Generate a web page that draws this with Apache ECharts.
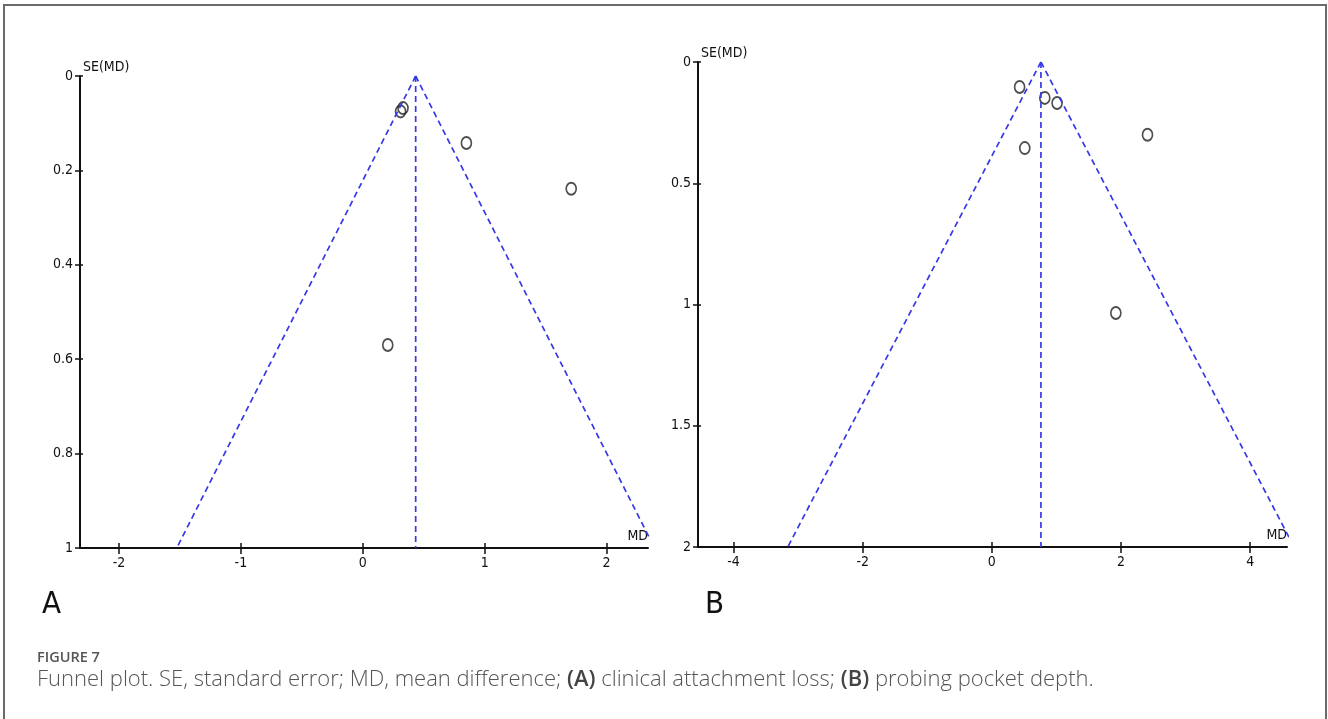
<!DOCTYPE html>
<html>
<head>
<meta charset="utf-8">
<script src="https://cdn.jsdelivr.net/npm/echarts@6/dist/echarts.min.js"></script>
<style>
html,body{margin:0;padding:0;background:#fff;}
#chart{width:1328px;height:719px;}
</style>
</head>
<body>
<div id="chart"></div>
<script>
// ---------- Data ----------
// Panel A: clinical attachment loss  [MD, SE(MD)]
const studiesA = [[0.31, 0.075], [0.33, 0.068], [0.85, 0.142], [1.71, 0.239], [0.205, 0.570]];
// funnel lines (pooled MD at SE=0 and pseudo 95% limits at SE=1)
const funnelCenterA = [[0.434, 0], [0.434, 1]];
const funnelLeftA = [[0.434, 0], [-1.526, 1]];
const funnelRightA = [[0.434, 0], [2.394, 1]];
const xTicksA = [-2, -1, 0, 1, 2];
const yTicksA = [0, 0.2, 0.4, 0.6, 0.8, 1];
const xRangeA = [-2.32, 2.34];
const yRangeA = [0, 1];

// Panel B: probing pocket depth  [MD, SE(MD)]
const studiesB = [[0.43, 0.103], [0.82, 0.148], [1.01, 0.169], [0.51, 0.355], [2.41, 0.300], [1.92, 1.035]];
const funnelCenterB = [[0.76, 0], [0.76, 2]];
const funnelLeftB = [[0.76, 0], [-3.16, 2]];
const funnelRightB = [[0.76, 0], [4.68, 2]];
const xTicksB = [-4, -2, 0, 2, 4];
const yTicksB = [0, 0.5, 1, 1.5, 2];
const xRangeB = [-4.55, 4.57];
const yRangeB = [0, 2];

const yNameText = 'SE(MD)';
const xNameText = 'MD';
const panelLabels = ['A', 'B'];
const figureTag = 'FIGURE 7';
const captionParts = ['Funnel plot. SE, standard error; MD, mean difference; ', '(A)', ' clinical attachment loss; ', '(B)', ' probing pocket depth.'];

// ---------- Styles ----------
const AX = '#111111';
const NARROW = "'DejaVu Sans Condensed','Liberation Sans Narrow',sans-serif";
const FUNNEL = '#3838e6';
const labelStyle = {color: AX, fontSize: 14, fontFamily: NARROW};

function mainX(grid, range, ticks) {
  return {
    type: 'value', gridIndex: grid, position: 'bottom', min: range[0], max: range[1],
    splitLine: {show: false},
    axisLine: {show: true, onZero: false, lineStyle: {color: AX, width: 2}},
    axisTick: {show: true, inside: false, length: 6, lineStyle: {color: AX, width: 1.5}, customValues: ticks},
    axisLabel: Object.assign({show: true, margin: 8, customValues: ticks}, labelStyle),
    name: xNameText, nameLocation: 'end', nameGap: 0,
    nameTextStyle: {color: AX, fontSize: 14, fontFamily: NARROW, align: 'right', verticalAlign: 'bottom', padding: [0, 0, 5, 0]}
  };
}
function innerX(grid, range, ticks) {
  return {
    type: 'value', gridIndex: grid, position: 'bottom', min: range[0], max: range[1],
    splitLine: {show: false},
    axisLine: {show: false, onZero: false},
    axisTick: {show: true, inside: true, length: 5, lineStyle: {color: AX, width: 1.5}, customValues: ticks},
    axisLabel: {show: false}
  };
}
function mainY(grid, range, ticks) {
  return {
    type: 'value', gridIndex: grid, position: 'left', inverse: true, min: range[0], max: range[1],
    splitLine: {show: false},
    axisLine: {show: true, onZero: false, lineStyle: {color: AX, width: 2}},
    axisTick: {show: true, inside: false, length: 5, lineStyle: {color: AX, width: 1.5}, customValues: ticks},
    axisLabel: Object.assign({show: true, margin: 7, customValues: ticks}, labelStyle),
    name: yNameText, nameLocation: 'start', nameGap: 2,
    nameTextStyle: {color: AX, fontSize: 14, fontFamily: NARROW, align: 'left', verticalAlign: 'bottom', padding: [0, 0, 0, 3]}
  };
}
function innerY(grid, range, ticks) {
  return {
    type: 'value', gridIndex: grid, position: 'left', inverse: true, min: range[0], max: range[1],
    splitLine: {show: false},
    axisLine: {show: false, onZero: false},
    axisTick: {show: true, inside: true, length: 3, lineStyle: {color: AX, width: 1.5}, customValues: ticks},
    axisLabel: {show: false}
  };
}
function funnelLine(data, xi, yi) {
  return {
    type: 'line', xAxisIndex: xi, yAxisIndex: yi, data: data, symbol: 'none', clip: true,
    silent: true, animation: false,
    lineStyle: {color: FUNNEL, width: 1.7, type: [6, 4]}
  };
}
function studies(data, xi, yi) {
  return {
    type: 'scatter', xAxisIndex: xi, yAxisIndex: yi, data: data, symbol: 'circle', symbolSize: [10, 12],
    animation: false,
    itemStyle: {color: 'rgba(255,255,255,0)', borderColor: '#222222', borderWidth: 1.8}
  };
}

const option = {
  animation: false,
  backgroundColor: '#ffffff',
  grid: [
    {left: 80, top: 76, width: 568, height: 472},
    {left: 698, top: 62, width: 589, height: 485}
  ],
  xAxis: [
    mainX(0, xRangeA, xTicksA), innerX(0, xRangeA, xTicksA),
    mainX(1, xRangeB, xTicksB), innerX(1, xRangeB, xTicksB)
  ],
  yAxis: [
    mainY(0, yRangeA, yTicksA), innerY(0, yRangeA, yTicksA),
    mainY(1, yRangeB, yTicksB), innerY(1, yRangeB, yTicksB)
  ],
  series: [
    funnelLine(funnelCenterA, 0, 0), funnelLine(funnelLeftA, 0, 0), funnelLine(funnelRightA, 0, 0),
    studies(studiesA, 0, 0),
    funnelLine(funnelCenterB, 2, 2), funnelLine(funnelLeftB, 2, 2), funnelLine(funnelRightB, 2, 2),
    studies(studiesB, 2, 2)
  ],
  graphic: [
    {type: 'rect', shape: {x: 4, y: 5, width: 1322, height: 740}, style: {fill: 'none', stroke: '#6a6a6a', lineWidth: 2}, silent: true},
    {type: 'text', left: 42, top: 589, style: {text: panelLabels[0], fill: '#111', font: "31px " + NARROW}},
    {type: 'text', left: 705, top: 589, style: {text: panelLabels[1], fill: '#111', font: "31px " + NARROW}},
    {type: 'text', left: 37, top: 650, style: {text: figureTag, fill: '#555', font: "600 14.5px 'Open Sans',sans-serif"}},
    {type: 'text', left: 37, top: 669, style: {
      text: '{n|' + captionParts[0] + '}{b|' + captionParts[1] + '}{n|' + captionParts[2] + '}{b|' + captionParts[3] + '}{n|' + captionParts[4] + '}',
      rich: {
        n: {fill: '#555', fontSize: 22, fontFamily: "'Open Sans',sans-serif", fontWeight: 300},
        b: {fill: '#444', fontSize: 22, fontFamily: "'Open Sans',sans-serif", fontWeight: 600}
      }
    }}
  ]
};

const chart = echarts.init(document.getElementById('chart'), null, {renderer: 'canvas', width: 1328, height: 719});
chart.setOption(option);
</script>
</body>
</html>
